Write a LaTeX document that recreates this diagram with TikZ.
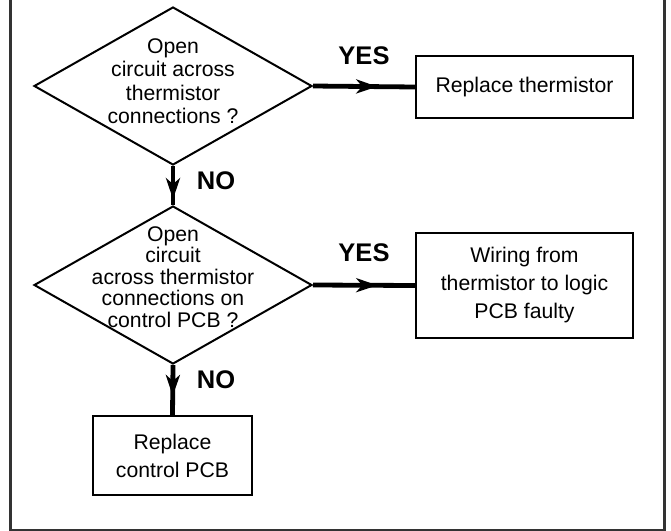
\documentclass[tikz,border=0pt]{standalone}
\usepackage{fontspec}
\setmainfont{Liberation Sans}
\usetikzlibrary{arrows.meta,shapes.geometric,decorations.markings}

\begin{document}
\begin{tikzpicture}[x=0.5pt,y=-0.5pt,
  decision/.style={diamond, draw, line width=1pt, inner sep=0pt, aspect=1.75,
    minimum width=139pt, minimum height=79pt},
  qtext/.style={align=center, inner sep=0pt, font=\fontsize{10.6}{#1}\selectfont},
  action/.style={draw, line width=1pt, inner sep=0pt, align=center,
    font=\fontsize{10.6}{14}\selectfont},
  answer/.style={inner sep=0pt, font=\fontsize{12.75}{13}\selectfont\bfseries},
  flow/.style={line width=2.4pt, postaction={decorate},
    decoration={markings, mark=at position #1 with {\arrow{Stealth[length=10.5pt,width=7pt,inset=3pt]}}}}]
\useasboundingbox (0,0) rectangle (671,531);
% outer frame, top edge is cut off
\draw[black!80, line width=1.5pt] (10,-20) -- (10,530) -- (664,530) -- (664,-20);

% questions
\node[decision] (q1) at (173,86) {};
\node[qtext=11.7] (q1t) at (173,81) {Open\\circuit across\\thermistor\\connections ?};
\node[decision] (q2) at (173,285) {};
\node[qtext=10.7] (q2t) at (173,277) {Open\\circuit\\across thermistor\\connections on\\control PCB ?};

% results
\node[action, minimum width=108.5pt, minimum height=31pt] (r1) at (524.5,87) {Replace thermistor};
\node[action, minimum width=108.5pt, minimum height=52.5pt] (r2) at (524.5,285.5) {Wiring from\\thermistor to logic\\PCB faulty};
\node[action, minimum width=79.5pt, minimum height=39.5pt] (r3) at (172.5,455.5) {Replace\\control PCB};

% connectors
\draw[flow=0.63] (q1.east) -- (r1.west);
\draw[flow=0.85] (q1.south) -- (q2.north);
\draw[flow=0.63] (q2.east) -- (r2.west);
\draw[flow=0.62] (q2.south) -- (r3.north);

\node[answer] (y1) at (364,56) {YES};
\node[answer] (y2) at (364,253) {YES};
\node[answer] (n1) at (216,181) {NO};
\node[answer] (n2) at (216,380) {NO};
\end{tikzpicture}
\end{document}
